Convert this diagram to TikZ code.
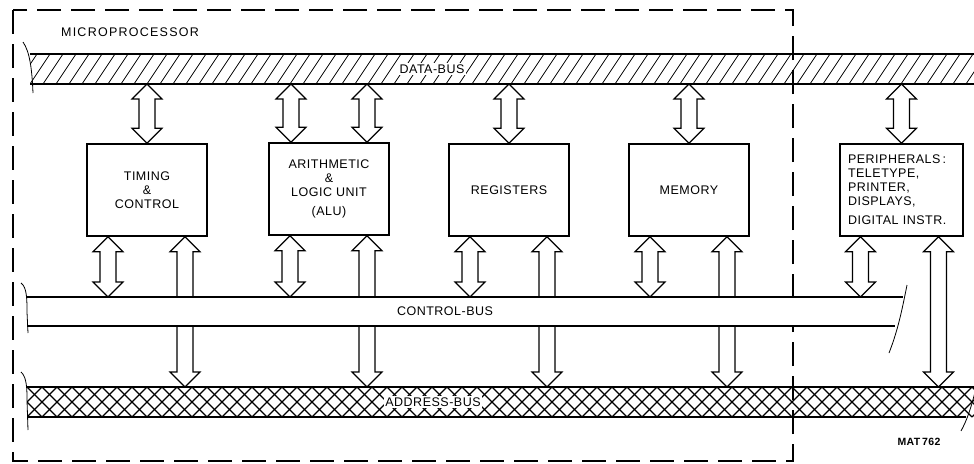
\documentclass[tikz,border=0pt]{standalone}
\usepackage{fontspec}
\setmainfont{Liberation Sans}[LetterSpace=4]
\usetikzlibrary{calc}

% block arrow with a head at both ends: #1 end on a unit, #2 bus anchor
\newcommand\busarrow[2]{%
  \draw[blockarrow] let \p1=(#1), \p2=(#2), \n1={ifthenelse(\y2>\y1,15,-15)} in
    (\x1,\y1) -- (\x1+15pt,\y1+\n1) -- (\x1+8pt,\y1+\n1) -- (\x1+8pt,\y2-\n1)
    -- (\x1+15pt,\y2-\n1) -- (\x1,\y2) -- (\x1-15pt,\y2-\n1) -- (\x1-8pt,\y2-\n1)
    -- (\x1-8pt,\y1+\n1) -- (\x1-15pt,\y1+\n1) -- cycle;}

\begin{document}
\begin{tikzpicture}[x=1pt,y=-1pt,
  font=\fontsize{12.5}{14}\selectfont,
  unit/.style={draw,line width=1.6pt,minimum width=120pt,minimum height=92pt,align=center,inner sep=0pt},
  bus/.style={minimum height=30pt,inner sep=0pt,outer sep=0pt},
  busline/.style={line width=1.4pt},
  breakline/.style={line width=.8pt},
  buslabel/.style={fill=white,inner sep=1.5pt},
  blockarrow/.style={draw,fill=white,line width=1.2pt,line join=miter},
  boundary/.style={line width=1.8pt,dash pattern=on 24pt off 10pt}]

\useasboundingbox (0,0) rectangle (974,463);
\clip (0,0) rectangle (974,463);

% microprocessor frame
\draw[boundary] (13,10) rectangle (793,461);
\node[font=\fontsize{12.5}{14}\selectfont\addfontfeature{LetterSpace=10}] at (130,32) {MICROPROCESSOR};

% data bus
\node[bus,minimum width=955pt,path picture={
  \foreach \i in {-3,...,76}
    \draw[line width=.8pt] ([xshift=\i*13pt]path picture bounding box.south west) -- ++(20,-30);}] (dbus) at (507.5,69) {};
\draw[busline] (dbus.north west) -- (dbus.north east) (dbus.south west) -- (dbus.south east);
\draw[breakline] (23,42) .. controls (30,52) and (32,70) .. (33,93);
\node[buslabel] at (432,69) {DATA-BUS};

% units
\node[unit] (tim) at (147,190) {TIMING\\\&\\CONTROL};
\node[unit] (alu) at (329,189) {ARITHMETIC\\\&\\LOGIC UNIT\\[5pt](ALU)};
\node[unit] (reg) at (509,190) {REGISTERS};
\node[unit] (mem) at (689,190) {MEMORY};
\node[unit,minimum width=123pt,text width=107pt,align=left] (per) at (901.5,190)
  {PERIPHERALS\,:\\TELETYPE,\\PRINTER,\\DISPLAYS,\\[5pt]DIGITAL INSTR.};

\busarrow{tim.north}{dbus.south}
\busarrow{$(alu.north)+(-38,0)$}{dbus.south}
\busarrow{$(alu.north)+(38,0)$}{dbus.south}
\busarrow{reg.north}{dbus.south}
\busarrow{mem.north}{dbus.south}
\busarrow{per.north}{dbus.south}

% address bus
\node[bus,minimum width=950pt,path picture={
  \foreach \i in {-3,...,66} {
    \draw[line width=1.3pt] ([xshift=\i*15pt]path picture bounding box.south west) -- ++(30,-30);
    \draw[line width=1.3pt] ([xshift=\i*15pt]path picture bounding box.south west) -- ++(-30,-30);}}] (abus) at (502,402) {};
\draw[busline] (abus.north west) -- (abus.north east) (abus.south west) -- (966,417);
\draw[breakline] (21,372) .. controls (27,377) and (27,390) .. (27,400) -- (28,430);
\draw[breakline] (975,392) .. controls (971,408) and (967,420) .. (961,431);
\node[buslabel] at (433,402) {ADDRESS-BUS};

\foreach \b in {tim,alu,reg,mem}
  \busarrow{$(\b.south)+(38,0)$}{abus.north};
\busarrow{$(per.south)+(37,0)$}{abus.north}

% control bus
\node[bus,minimum width=876pt,minimum height=29pt,fill=white] (cbus) at (465,311.5) {};
\draw[busline] (cbus.north west) -- (cbus.north east) (cbus.south west) -- ([xshift=-8pt]cbus.south east);
\draw[breakline] (21,283) .. controls (27,287) and (27,300) .. (27,312) -- (28,333);
\draw[breakline] (907,285) .. controls (902,310) and (898,330) .. (889,353);
\node at (445,311) {CONTROL-BUS};

\foreach \b in {tim,alu,reg,mem}
  \busarrow{$(\b.south)+(-39,0)$}{cbus.north};
\busarrow{$(per.south)+(-41,0)$}{cbus.north}

\node[font=\bfseries\fontsize{10.5}{12}\selectfont] at (919,442) {MAT\,762};
\end{tikzpicture}
\end{document}
